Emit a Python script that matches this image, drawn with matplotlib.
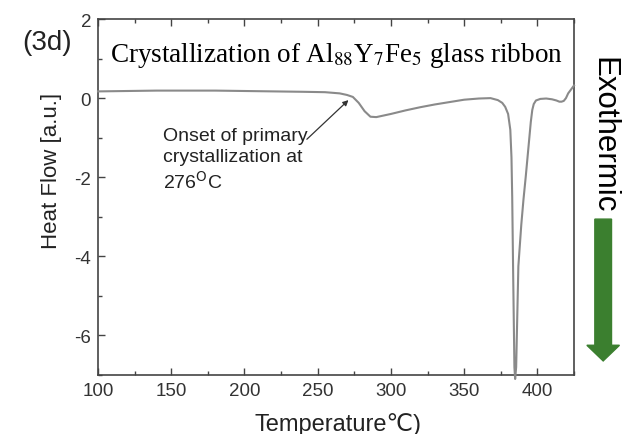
import matplotlib
matplotlib.use("Agg")
import matplotlib.pyplot as plt
from matplotlib.ticker import MultipleLocator
from matplotlib.patches import FancyArrow

temps = [100, 120, 140, 160, 180, 200, 220, 240, 255, 265, 270, 274, 278, 282, 286, 290,
         300, 310, 320, 330, 340, 350, 360, 368, 373, 376, 378, 380, 381.5, 382.3, 382.8,
         383.4, 384.3, 384.8, 385.5, 387, 389, 390.5, 392, 393, 394.5, 395.5, 396.5, 397.5,
         399, 402, 406, 410, 413, 415, 416.5, 418, 419.5, 421, 423, 425]
heat = [0.17, 0.18, 0.19, 0.19, 0.19, 0.18, 0.17, 0.16, 0.15, 0.12, 0.08, 0.03, -0.12, -0.33,
        -0.47, -0.48, -0.40, -0.31, -0.23, -0.16, -0.10, -0.04, -0.01, 0.0, -0.05, -0.12,
        -0.22, -0.4, -0.8, -1.5, -2.5, -4.3, -6.8, -7.1, -6.8, -4.25, -3.2, -2.56, -2.0, -1.6,
        -1.0, -0.6, -0.3, -0.15, -0.06, -0.02, -0.01, -0.03, -0.06, -0.09, -0.09, -0.07, 0.0,
        0.12, 0.22, 0.32]
xticks = [100, 150, 200, 250, 300, 350, 400]
yticks = [-6, -4, -2, 0, 2]

plt.rcParams['axes.unicode_minus'] = False
sans = ['Liberation Sans', 'DejaVu Sans']
fig = plt.figure(figsize=(6.27, 4.35), dpi=100)
ax = fig.add_axes([0.1563, 0.1356, 0.7592, 0.8184])
ax.plot(temps, heat, color='#8a8a8a', lw=1.5, clip_on=False, zorder=3)
ax.set_xlim(100, 425)
ax.set_ylim(-7, 2)
ax.set_xticks(xticks)
ax.set_yticks(yticks)
ax.xaxis.set_minor_locator(MultipleLocator(25))
ax.yaxis.set_minor_locator(MultipleLocator(1))
ax.tick_params(which='both', direction='in', top=True, right=False, color='#444444',
               labelsize=13.5, labelcolor='#333333', pad=5)
ax.tick_params(which='major', length=5, width=1)
ax.tick_params(which='minor', length=3, width=1)
for lab in ax.get_xticklabels() + ax.get_yticklabels():
    lab.set_family(sans)
for s in ax.spines.values():
    s.set_color('#444444')
    s.set_linewidth(1.2)

ax.set_xlabel('Temperature℃)', family=sans, fontsize=17, color='#222222')
ax.xaxis.set_label_coords(0.505, -0.104)
ax.set_ylabel('Heat Flow [a.u.]', family=sans, fontsize=16, color='#222222')
ax.yaxis.set_label_coords(-0.0756, 0.576)

ax.text(0.501, 0.882, r'Crystallization of Al$_{88}$Y$_7$Fe$_5$ glass ribbon', transform=ax.transAxes,
        ha='center', va='baseline', family='Liberation Serif', fontsize=19.5, color='black',
        math_fontfamily='stix')
fig.text(0.035, 0.9, '(3d)', family=sans, fontsize=20, color='#222222', va='center')

ax.text(144.4, -0.72, 'Onset of primary\ncrystallization at\n276$^{\\mathrm{O}}$C',
        family=sans, fontsize=14, color='#222222', va='top', ha='left', linespacing=1.3)
ax.annotate('', xy=(271, -0.05), xytext=(242.6, -1.04),
            arrowprops=dict(arrowstyle='-|>', color='#333333', lw=0.9, shrinkA=0, shrinkB=0,
                            mutation_scale=8))

fig.text(0.9617, 0.6885, 'Exothermic', rotation=-90, family=sans, fontsize=22.5, color='black',
         ha='center', va='center')
arr = FancyArrow(0.962, 0.494, 0, -0.326, width=0.0266, head_width=0.052, head_length=0.036,
                 length_includes_head=True, color='#3b7f2f', transform=fig.transFigure)
fig.patches.append(arr)

fig.savefig('out.png', dpi=100)
